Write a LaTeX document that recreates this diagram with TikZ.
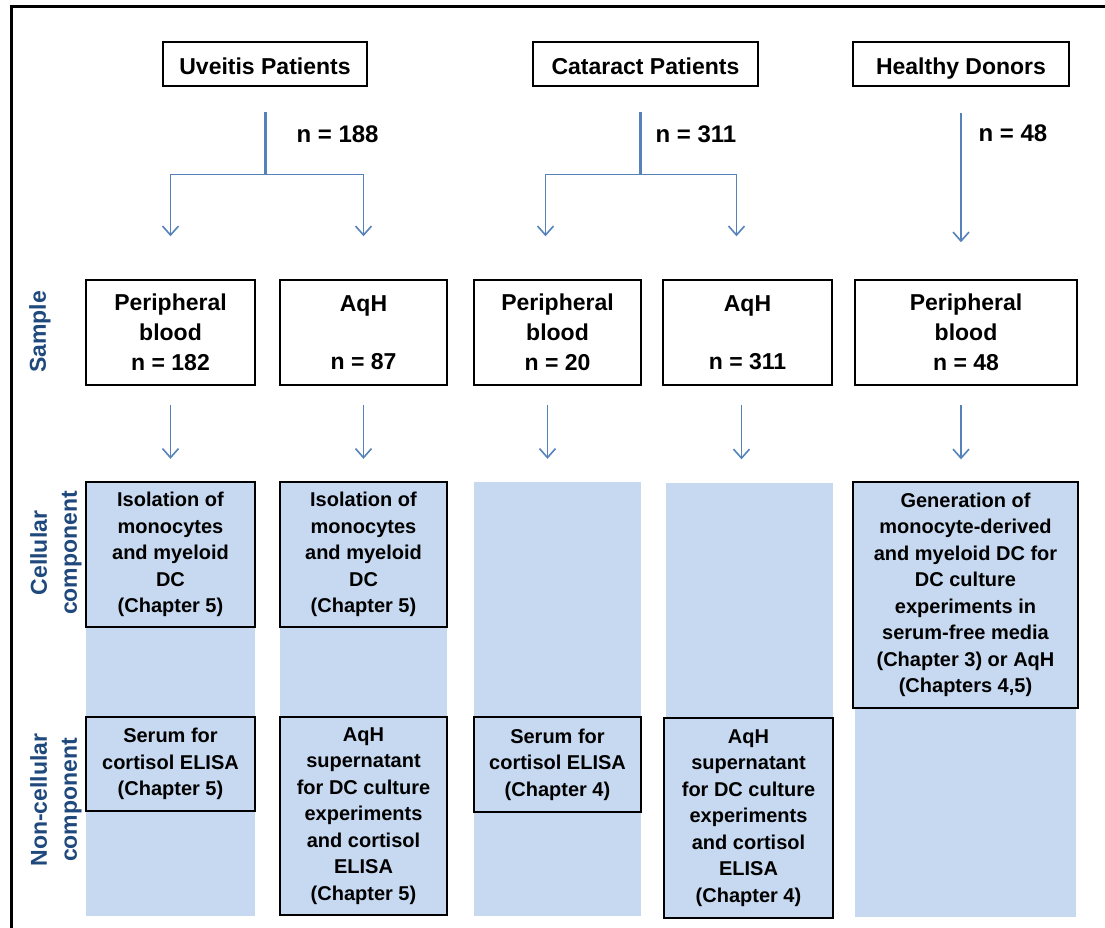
\documentclass[tikz,border=0pt]{standalone}
\usepackage{fontspec}
\setmainfont{Liberation Sans}
\usetikzlibrary{arrows.meta,positioning,calc}
\definecolor{boxblue}{RGB}{198,217,240}
\definecolor{linkblue}{RGB}{84,130,185}
\definecolor{labelblue}{RGB}{31,73,125}

\begin{document}
\begin{tikzpicture}[x=1pt,y=-1pt,
  sourcebox/.style={draw, line width=1.3pt, inner sep=0pt, text height=26pt, text depth=4pt, minimum height=44pt, font=\bfseries\fontsize{23}{27}\selectfont},
  samplebox/.style={draw, line width=1.5pt, inner sep=0pt, align=center, minimum height=105pt, font=\bfseries\fontsize{23}{30}\selectfont},
  column/.style={fill=boxblue, inner sep=0pt, minimum height=434pt},
  partbox/.style={draw, fill=boxblue, line width=1.5pt, inner sep=0pt, align=center, font=\bfseries\fontsize{20}{26.5}\selectfont},
  rowlabel/.style={rotate=90, align=center, text=labelblue, font=\bfseries\fontsize{23}{30}\selectfont},
  count/.style={anchor=west, font=\bfseries\fontsize{24}{28}\selectfont},
  stem/.style={draw=linkblue, line width=3pt},
  branch/.style={draw=linkblue, line width=1.6pt, -{Straight Barb[length=9pt,width=16pt]}}]
\useasboundingbox (0,0) rectangle (1105,928);
\draw[line width=3.5pt] (11.5,940) -- (11.5,6.5) -- (1120,6.5);

\node[sourcebox, minimum width=204pt] (uveitis) at (265,64) {Uveitis Patients};
\node[sourcebox, minimum width=225pt] (cataract) at (645.5,64) {Cataract Patients};
\node[sourcebox, minimum width=216pt] (healthy) at (961,64) {Healthy Donors};

\node[count] (uvn) at (293,134) {n = 188};
\node[count] (can) at (652,134) {n = 311};
\node[count] (hdn) at (975,133) {n = 48};

\node[samplebox, minimum width=169pt] (pbu) at (170.5,332.5) {Peripheral\\blood\\n = 182};
\node[samplebox, minimum width=167pt] (aqu) at (363.5,332.5) {AqH\\[28pt]n = 87};
\node[samplebox, minimum width=167pt] (pbc) at (557.5,332.5) {Peripheral\\blood\\n = 20};
\node[samplebox, minimum width=169pt] (aqc) at (747.5,332.5) {AqH\\[28pt]n = 311};
\node[samplebox, minimum width=222pt] (pbh) at (966,332.5) {Peripheral\\blood\\n = 48};

\node[rowlabel] (samplelab) at (40,332) {Sample};
\node[rowlabel] (celllab) at (56,553) {Cellular\\component};
\node[rowlabel] (noncelllab) at (56,800) {Non-cellular\\component};

\node[column, minimum width=169pt] (col1) at (170.5,699) {};
\node[column, minimum width=167pt] (col2) at (363.5,699) {};
\node[column, minimum width=167pt] (col3) at (557.5,699) {};
\node[column, minimum width=167pt] (col4) at (749.5,699.5) {};
\node[column, minimum width=221pt] (col5) at (965.5,699.5) {};

\node[partbox, minimum width=169pt, minimum height=145pt] (cellu) at (170.5,554.5) {Isolation of\\monocytes\\and myeloid\\DC\\(Chapter 5)};
\node[partbox, minimum width=167pt, minimum height=145pt] (cellaq) at (363.5,554.5) {Isolation of\\monocytes\\and myeloid\\DC\\(Chapter 5)};
\node[partbox, minimum width=225pt, minimum height=226pt] (cellh) at (965.5,595) {Generation of\\monocyte-derived\\and myeloid DC for\\DC culture\\experiments in\\serum-free media\\(Chapter 3) or AqH\\(Chapters 4,5)};
\node[partbox, minimum width=169pt, minimum height=94pt] (seru) at (170.5,764) {Serum for\\cortisol ELISA\\(Chapter 5)};
\node[partbox, minimum width=167pt, minimum height=198pt] (supu) at (363.5,816) {AqH\\supernatant\\for DC culture\\experiments\\and cortisol\\ELISA\\(Chapter 5)};
\node[partbox, minimum width=167pt, minimum height=95pt] (serc) at (557.5,764.5) {Serum for\\cortisol ELISA\\(Chapter 4)};
\node[partbox, minimum width=169pt, minimum height=200pt] (supc) at (748.5,818) {AqH\\supernatant\\for DC culture\\experiments\\and cortisol\\ELISA\\(Chapter 4)};

\draw[stem] ([yshift=-25pt]uveitis.south) -- ([yshift=-88pt]uveitis.south) coordinate (uvfork);
\draw[branch, shorten >=43pt] (uvfork) -| (pbu.north);
\draw[branch, shorten >=43pt] (uvfork) -| (aqu.north);
\draw[stem] ([xshift=-5.5pt,yshift=-25pt]cataract.south) -- ([xshift=-5.5pt,yshift=-88pt]cataract.south) coordinate (cafork);
\draw[branch, shorten >=43pt] (cafork) -| ([xshift=-12pt]pbc.north);
\draw[branch, shorten >=43pt] (cafork) -| ([xshift=-11pt]aqc.north);
\draw[branch, shorten <=26pt, shorten >=37pt] (healthy.south) -- (healthy.south |- pbh.north);

\draw[branch, shorten <=19pt, shorten >=23pt] (pbu.south) -- (pbu.south |- col1.north);
\draw[branch, shorten <=19pt, shorten >=23pt] (aqu.south) -- (aqu.south |- col2.north);
\draw[branch, shorten <=19pt, shorten >=23pt] ([xshift=-10pt]pbc.south) -- ([xshift=-10pt]pbc.south |- col3.north);
\draw[branch, shorten <=19pt, shorten >=23pt] ([xshift=-6pt]aqc.south) -- ([xshift=-6pt]aqc.south |- col4.north);
\draw[branch, shorten <=19pt, shorten >=23pt] ([xshift=-5pt]pbh.south) -- ([xshift=-5pt]pbh.south |- col5.north);
\end{tikzpicture}
\end{document}
